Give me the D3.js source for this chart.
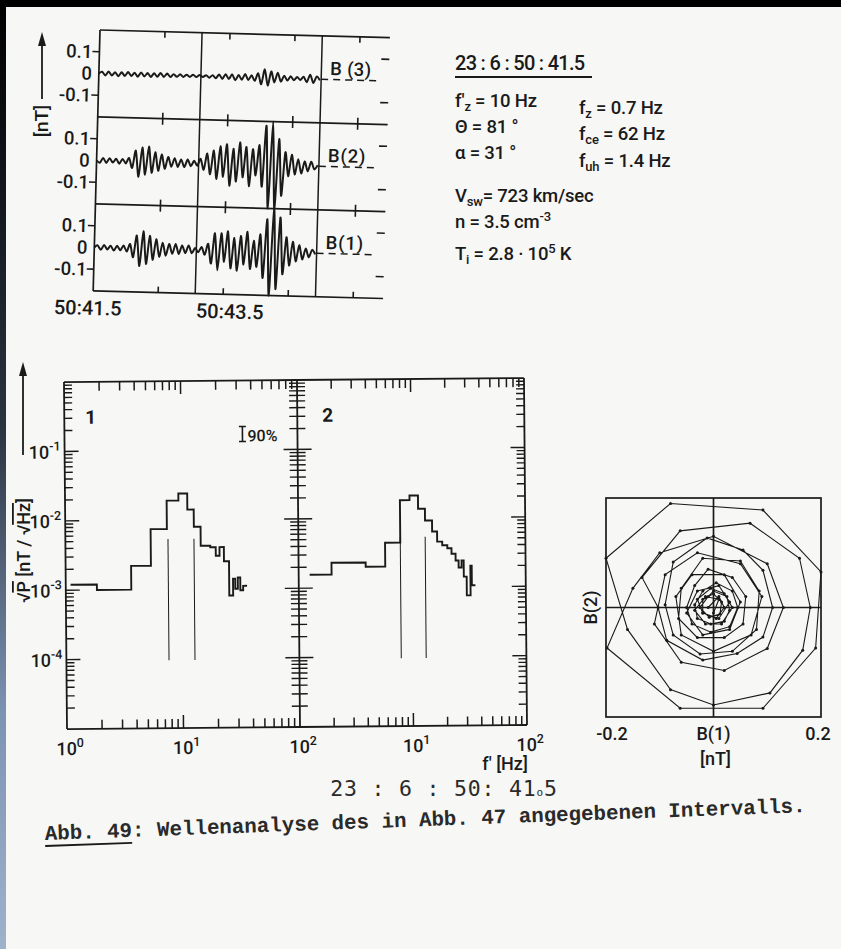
<!DOCTYPE html>
<html><head><meta charset="utf-8">
<script src="https://cdn.jsdelivr.net/npm/d3@7"></script>
<style>
html,body{margin:0;padding:0;background:#f7f7f5;}
svg{display:block;}
</style></head><body>
<svg id="c" width="841" height="949"></svg>
<script>
// ---------------- DATA ----------------
// Waveforms (nT), sampled every 0.05 s from 50:41.5
const sampleStart = 41.5, sampleStep = 0.05;
const B1 = [0,.01,-.01,.012,-.008,.01,-.012,.01,-.01,.012,
  -.015,.02,-.04,.06,-.08,.08,-.07,.06,-.05,.045,
  -.035,.03,-.03,.025,-.02,.025,-.02,.02,-.015,.02,
  -.015,.01,-.01,.015,-.02,.03,-.06,.08,-.09,.08,
  -.05,.09,-.08,.06,-.09,.07,-.06,.09,-.08,.05,
  -.07,.08,-.12,.15,-.2,.2,-.17,.16,-.1,.07,
  -.06,.05,-.04,.035,-.03,.02,-.02,.015,-.005];
const B2 = [0,-.01,.012,-.01,.012,-.008,.01,-.012,.01,-.01,
  .015,-.03,.05,-.07,.065,-.06,.07,-.05,.045,-.04,
  .035,-.03,.025,-.02,.02,-.02,.015,-.02,.015,-.015,
  .01,-.012,.02,-.03,.045,-.05,.06,-.07,.08,-.06,
  .09,-.1,.07,-.08,.1,-.06,.08,-.1,.07,-.05,
  .09,-.1,.18,-.2,.2,-.2,.12,-.14,.06,-.05,
  .05,-.04,.03,-.035,.02,-.025,.02,-.015,.005];
const B3 = [0,.008,-.008,.01,-.008,.008,-.01,.008,-.008,.01,
  -.008,.008,-.01,.01,-.008,.008,-.01,.008,-.008,.01,
  -.008,.008,-.008,.006,-.006,.006,-.006,.005,-.005,.006,
  -.005,.005,-.004,.005,-.006,.006,-.008,.01,-.01,.012,
  -.01,.012,-.015,.01,-.012,.015,-.012,.01,-.015,.02,
  -.03,.04,-.035,.03,-.02,.025,-.015,.012,-.01,.01,
  -.008,.008,-.006,.01,-.015,.02,-.018,.012,-.005];
const waveNames = ["B (3)", "B(2)", "B(1)"];
const timeTickValues = [42.5, 43.5, 44.5, 45.5];
const timeLabels = [[41.5, "50:41.5"], [43.5, "50:43.5"]];
const dividerTimes = [43.07, 44.92];
const ampTicks = [0.1, 0, -0.1];
const ampTickLabels = ["0.1", "0", "-0.1"];

// Parameters text
const headerTime = "23 : 6 : 50 : 41.5";

// Spectra: step edges (Hz) and levels (nT/sqrt(Hz))
const spec1Edges = [1.1,1.85,3.65,5.4,7.45,9.4,11.2,12.7,14.5,17.5,19.5,21,22.9,25.3,27.3,28.5,30,31.5,33.3,36];
const spec1Vals  = [1.2e-3,1.0e-3,2.2e-3,7.4e-3,1.9e-2,2.4e-2,1.4e-2,7.9e-3,4.2e-3,4.0e-3,3.0e-3,4.0e-3,2.5e-3,8e-4,1.4e-3,1.0e-3,1.45e-3,0.95e-3,1.1e-3];
const spec2Edges = [1.25,1.95,3.9,5.8,7.9,9.6,11.4,13.1,15.1,16.7,18.5,20.5,22.3,24.2,25.7,27.3,28.5,30.2,32.6,33.5,36];
const spec2Vals  = [1.56e-3,2.3e-3,2.0e-3,4.4e-3,1.8e-2,2.1e-2,1.35e-2,9.1e-3,6.3e-3,4.5e-3,4.0e-3,3.6e-3,3.0e-3,2.4e-3,1.9e-3,2.4e-3,1.4e-3,7.5e-4,2.0e-3,1.05e-3];
const spec1Band = [7.6, 12.7];
const spec2Band = [7.9, 13.1];
const bandRange = [9.5e-5, 5.3e-3];
const decadeLabels = [[1e-1,"-1"],[1e-2,"-2"],[1e-3,"-3"],[1e-4,"-4"]];
const freqLabels1 = [[1,"0"],[10,"1"],[100,"2"]];
const freqLabels2 = [[10,"1"],[100,"2"]];

// Hodogram B(1), B(2) in nT
const hodo = [[-0.01,0.0],[0.01,0.02],[0.02,0.0],[0.005,-0.02],[-0.02,-0.01],[-0.02,0.015],[0.0,0.025],[0.015,0.01],[0.012,-0.012],[-0.008,-0.018],[-0.025,0.0],[-0.01,0.02],
[0.0,0.03],[0.025,0.02],[0.03,-0.005],[0.02,-0.025],[-0.005,-0.03],[-0.03,-0.02],[-0.035,0.005],[-0.02,0.03],
[0.005,0.045],[0.035,0.03],[0.045,0.0],[0.03,-0.035],[-0.005,-0.045],[-0.04,-0.03],[-0.05,0.0],[-0.035,0.04],
[-0.01,0.07],[0.035,0.055],[0.06,0.02],[0.055,-0.03],[0.02,-0.055],[-0.03,-0.055],[-0.065,-0.02],[-0.06,0.035],
[-0.02,0.09],[0.05,0.085],[0.085,0.03],[0.08,-0.04],[0.035,-0.08],[-0.025,-0.085],[-0.075,-0.05],[-0.09,0.005],[-0.075,0.083],
[-0.012,0.127],[0.055,0.105],[0.092,0.068],[0.11,0.0],[0.092,-0.054],[0.044,-0.084],[-0.02,-0.096],[-0.087,-0.06],[-0.103,0.0],
[-0.133,0.055],[-0.062,0.14],[0.068,0.154],[0.16,0.09],[0.18,0.0],[0.166,-0.078],[0.105,-0.156],[0.0,-0.178],[-0.08,-0.15],[-0.16,-0.04],
[-0.2,0.09],[-0.08,0.19],[0.092,0.178],[0.2,0.065],[0.19,-0.074],[0.092,-0.184],[-0.062,-0.184],[-0.198,-0.074],
[-0.15,0.035],[-0.1,0.1],[0.0,0.13],[0.1,0.08],[0.13,0.0],[0.1,-0.075],[0.02,-0.115],[-0.06,-0.1],[-0.11,-0.03],
[-0.09,0.06],[-0.03,0.1],[0.05,0.08],[0.09,0.02],[0.07,-0.05],[0.0,-0.08],[-0.06,-0.05],[-0.07,0.02],
[-0.04,0.06],[0.02,0.06],[0.05,0.01],[0.03,-0.04],[-0.02,-0.05],[-0.05,-0.01],[-0.03,0.03],[0.01,0.04],[0.03,0.01],[0.01,-0.02],[-0.02,-0.01],
[-0.03,0.015],[-0.005,0.035],[0.02,0.025],[0.035,0.0],[0.015,-0.03],[-0.015,-0.03],[-0.035,-0.005],[-0.015,0.02],[0.01,0.015],[0.0,-0.01]];
const hodoTickLabels = [[-0.2,"-0.2"],[0.2,"0.2"]];

// ---------------- DRAW ----------------
const ink = "#1a1a1a";
const sans = "Roboto, 'Liberation Sans', sans-serif";
const mono = "'Liberation Mono', 'DejaVu Sans Mono', monospace";
const svg = d3.select("#c");
svg.append("rect").attr("width",841).attr("height",949).attr("fill","#f7f7f5");
// scan edges
const grad = svg.append("defs").append("linearGradient").attr("id","edge").attr("x1",0).attr("y1",0).attr("x2",0).attr("y2",1);
grad.append("stop").attr("offset","0").attr("stop-color","#000");
grad.append("stop").attr("offset","0.45").attr("stop-color","#2a3340");
grad.append("stop").attr("offset","0.75").attr("stop-color","#7d93b3");
grad.append("stop").attr("offset","1").attr("stop-color","#9fb2cc");
svg.append("rect").attr("x",0).attr("y",0).attr("width",6).attr("height",949).attr("fill","url(#edge)");
svg.append("rect").attr("x",0).attr("y",0).attr("width",841).attr("height",7).attr("fill","#000");

function line(g,x1,y1,x2,y2,w){ return g.append("line").attr("x1",x1).attr("y1",y1).attr("x2",x2).attr("y2",y2).attr("stroke",ink).attr("stroke-width",w||1.5); }
function txt(g,x,y,s,size,anchor,weight,fam){ return g.append("text").attr("x",x).attr("y",y).attr("font-family",fam||sans).attr("font-size",size).attr("font-weight",weight||500).attr("text-anchor",anchor||"start").attr("fill",ink).text(s); }

// ===== Top waveform panel =====
const gT = svg.append("g").attr("transform","rotate(1.5,100,30)");
const xT = d3.scaleLinear().domain([41.5, 45.96]).range([100, 390]);
const topY = 30, pH = 87;
const waves = [B3, B2, B1];
for (let k=0;k<=3;k++){
  const yy = topY + k*pH;
  line(gT, xT(41.5), yy, xT(45.96), yy, 1.7);
  timeTickValues.forEach(t=>{
    const up = k>0 ? 6 : 0, dn = k<3 ? 6 : 0;
    line(gT, xT(t), yy-up, xT(t), yy+dn, 1.6);
  });
}
line(gT, xT(41.5), topY, xT(41.5), topY+3*pH, 1.7);
dividerTimes.forEach(t=> line(gT, xT(t), topY, xT(t), topY+3*pH, 1.5));
waves.forEach((vals,k)=>{
  const y0 = topY + k*pH;
  const y = d3.scaleLinear().domain([-0.2,0.2]).range([y0+pH, y0]);
  ampTicks.forEach((v,j)=>{
    if (v!==0){ line(gT, xT(41.5)-7, y(v), xT(41.5), y(v), 1.6); line(gT, xT(45.96)-8, y(v), xT(45.96), y(v), 1.6); }
    txt(gT, 93, y(v)+6.5, ampTickLabels[j], 18.5, "end");
  });
  const ln = d3.line().x((d,i)=>xT(sampleStart+i*sampleStep)).y(d=>y(d)).curve(d3.curveCardinal.tension(0.2));
  gT.append("path").attr("d",ln(vals)).attr("fill","none").attr("stroke",ink).attr("stroke-width",2).attr("stroke-linejoin","round");
  gT.append("line").attr("x1",xT(dividerTimes[1])).attr("x2",xT(45.8)).attr("y1",y(0)).attr("y2",y(0))
    .attr("stroke",ink).attr("stroke-width",1.5).attr("stroke-dasharray","7,5");
  txt(gT, xT(45.07)-1, y0+39, waveNames[k], 18.5, "start").attr("letter-spacing", k===0 ? "0.3" : "0.8");
});
timeLabels.forEach(([t,s])=> txt(gT, xT(t)+ (t===41.5? -5 : 7), 315, s, 20, "middle"));
// [nT] label with arrow
svg.append("text").attr("transform","translate(48,121) rotate(-90)").attr("text-anchor","middle")
  .attr("font-family",sans).attr("font-size",19).attr("font-weight",500).attr("fill",ink).text("[nT]");
line(svg, 42, 99, 42, 42, 1.8);
svg.append("path").attr("d","M42,32 L38,46 L46,46 Z").attr("fill",ink);

// ===== Parameter text =====
const gP = svg.append("g");
txt(gP, 455, 70, headerTime, 20, "start", 500).attr("letter-spacing","-0.7");
line(gP, 455, 77, 592, 77, 1.8);
function param(x,y,main,sub,rest){
  const t = gP.append("text").attr("x",x).attr("y",y).attr("font-family",sans).attr("font-size",18.5).attr("font-weight",500).attr("fill",ink).attr("letter-spacing","-0.2");
  t.append("tspan").text(main);
  if (sub) t.append("tspan").attr("font-size",13).attr("dy",4).text(sub);
  t.append("tspan").attr("dy", sub? -4 : 0).text(rest);
  return t;
}
param(455,107,"f'","z"," = 10 Hz");
param(579,114,"f","z","   = 0.7 Hz");
param(455,133,"\u0398","","  = 81 \u00b0");
param(579,140,"f","ce"," = 62  Hz");
param(455,159,"\u03b1","","  = 31 \u00b0");
param(579,167,"f","uh"," = 1.4  Hz");
param(455,202,"V","sw","= 723 km/sec");
const tn = param(455,228,"n","","   = 3.5 cm");
tn.append("tspan").attr("font-size",13).attr("dy",-7).text("-3");
const tt = param(455,260,"T","i","  = 2.8 \u00b7 10");
tt.append("tspan").attr("font-size",13).attr("dy",-7).text("5");
tt.append("tspan").attr("dy",7).text(" K");

// ===== Spectra =====
const gS = svg.append("g").attr("transform","rotate(-0.5,300,727)");
const ys = d3.scaleLog().domain([1e-5,1]).range([727,380]);
const xs1 = d3.scaleLog().domain([1,100]).range([67,300]);
const xs2 = d3.scaleLog().domain([1,100]).range([300,527]);
[[xs1],[xs2]].forEach(([xs])=>{
  line(gS, xs(1), ys(1), xs(100), ys(1), 1.8);
  line(gS, xs(1), ys(1e-5), xs(100), ys(1e-5), 1.8);
  xs.ticks().forEach(v=>{
    if (v<=1 || v>=100) return;
    const maj = Math.abs(Math.log10(v)-Math.round(Math.log10(v)))<1e-6;
    const L = maj ? 13 : 9;
    line(gS, xs(v), ys(1e-5), xs(v), ys(1e-5)-L, 1.5);
    line(gS, xs(v), ys(1), xs(v), ys(1)+L, 1.5);
  });
});
[67,300,527].forEach((xx,idx)=>{
  line(gS, xx, ys(1), xx, ys(1e-5), 1.8);
  ys.ticks().forEach(v=>{
    if (v<=1e-5 || v>=1) return;
    const maj = Math.abs(Math.log10(v)-Math.round(Math.log10(v)))<1e-6;
    const L = maj ? 14 : 8;
    if (idx===0) line(gS, xx, ys(v), xx+L, ys(v), 1.4);
    else if (idx===1) line(gS, xx-L, ys(v), xx+L, ys(v), 1.4);
    else line(gS, xx-L, ys(v), xx, ys(v), 1.4);
  });
});
function pow10(g,x,y,e,anchor){
  const t = g.append("text").attr("x",x).attr("y",y).attr("font-family",sans).attr("font-size",18).attr("font-weight",500).attr("text-anchor",anchor||"middle").attr("fill",ink);
  t.append("tspan").text("10");
  t.append("tspan").attr("font-size",12.5).attr("dy",-8).text(e);
  return t;
}
decadeLabels.forEach(([v,e])=> pow10(gS, 63, ys(v)+7, e, "end"));
freqLabels1.forEach(([v,e])=> pow10(gS, xs1(v)+3, 753, e));
freqLabels2.forEach(([v,e])=> pow10(gS, xs2(v)+3, 753, e));
function steps(xs, edges, vals){
  const pts = vals.map((v,i)=>[edges[i], v]);
  pts.push([edges[edges.length-1], vals[vals.length-1]]);
  const ln = d3.line().x(d=>xs(d[0])).y(d=>ys(d[1])).curve(d3.curveStepAfter);
  gS.append("path").attr("d",ln(pts)).attr("fill","none").attr("stroke",ink).attr("stroke-width",1.9);
}
steps(xs1, spec1Edges, spec1Vals);
steps(xs2, spec2Edges, spec2Vals);
spec1Band.forEach(f=> line(gS, xs1(f), ys(bandRange[1]), xs1(f), ys(bandRange[0]), 1.0));
spec2Band.forEach(f=> line(gS, xs2(f), ys(bandRange[1]), xs2(f), ys(bandRange[0]), 1.0));
txt(gS, 88, 422, "1", 19, "start", 700);
txt(gS, 325, 422, "2", 19, "start", 700);
// 90% error bar
line(gS, 245, 426, 245, 441, 1.6); line(gS, 241.5, 426, 248.5, 426, 1.6); line(gS, 241.5, 441, 248.5, 441, 1.6);
txt(gS, 250, 441, "90%", 16, "start", 500);
txt(svg, 505, 770, "f' [Hz]", 18, "middle", 500);
// y title
const yt = svg.append("text").attr("transform","translate(30,603) rotate(-90)").attr("font-family",sans).attr("font-size",18).attr("font-weight",500).attr("fill",ink);
yt.append("tspan").text("\u221A");
yt.append("tspan").attr("text-decoration","overline").text("P");
yt.append("tspan").text(" [nT / \u221A");
yt.append("tspan").attr("text-decoration","overline").text("Hz");
yt.append("tspan").text("]");
line(svg, 23, 455, 23, 374, 1.8);
svg.append("path").attr("d","M23,362 L19,376 L27,376 Z").attr("fill",ink);

// ===== Hodogram =====
const gH = svg.append("g");
const hx = d3.scaleLinear().domain([-0.2,0.2]).range([606,821]);
const hy = d3.scaleLinear().domain([-0.2,0.2]).range([717,498]);
gH.append("rect").attr("x",hx(-0.2)).attr("y",hy(0.2)).attr("width",hx(0.2)-hx(-0.2)).attr("height",hy(-0.2)-hy(0.2))
  .attr("fill","none").attr("stroke",ink).attr("stroke-width",1.7);
line(gH, hx(0), hy(0.2), hx(0), hy(-0.2), 1.7);
line(gH, hx(-0.2), hy(0), hx(0.2), hy(0), 1.7);
gH.append("path").attr("d", d3.line().x(d=>hx(d[0])).y(d=>hy(d[1]))(hodo)).attr("fill","none").attr("stroke",ink).attr("stroke-width",1.1);
gH.selectAll("circle.v").data(hodo).enter().append("circle").attr("cx",d=>hx(d[0])).attr("cy",d=>hy(d[1])).attr("r",1.5).attr("fill",ink);
hodoTickLabels.forEach(([v,s])=> txt(gH, hx(v)+(v<0?6:-3), 740, s, 18, "middle", 500));
txt(gH, hx(0), 740, "B(1)", 18, "middle", 500);
txt(gH, hx(0)+2, 765, "[nT]", 18, "middle", 500);
svg.append("text").attr("transform",`translate(597,${hy(0)}) rotate(-90)`).attr("text-anchor","middle")
  .attr("font-family",sans).attr("font-size",18).attr("font-weight",500).attr("fill",ink).text("B(2)");

// ===== Bottom texts =====
const bt = svg.append("text").attr("x",444).attr("y",796).attr("text-anchor","middle").attr("font-family","'DejaVu Sans Mono', monospace").attr("font-size",21.5).attr("fill","#2a2a2a").attr("letter-spacing","0.8");
bt.append("tspan").text("23 : 6 : 50: 41");
bt.append("tspan").attr("font-size",11).text("o");
bt.append("tspan").text("5");
const cap = svg.append("g").attr("transform","rotate(-2.1,45,840)");
const ct = cap.append("text").attr("x",45).attr("y",840).attr("font-family",mono).attr("font-size",20.8).attr("font-weight",700).attr("fill","#2a2a2a");
ct.append("tspan").text("Abb. 49");
ct.append("tspan").text(": Wellenanalyse des in Abb. 47 angegebenen Intervalls.");
line(cap, 45, 846, 132, 846, 1.8);
</script>
</body></html>
